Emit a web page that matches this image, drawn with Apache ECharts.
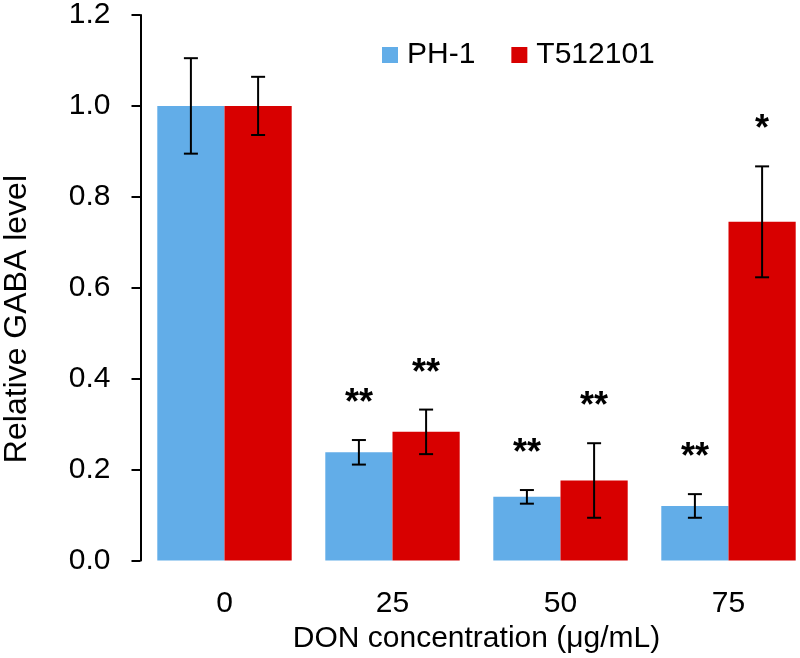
<!DOCTYPE html>
<html>
<head>
<meta charset="utf-8">
<script src="https://cdn.jsdelivr.net/npm/echarts@6/dist/echarts.min.js"></script>
<style>html,body{margin:0;padding:0;background:#fff;}#chart{width:800px;height:658px;}</style>
</head>
<body>
<div id="chart"></div>
<script>
const categories = ['0', '25', '50', '75'];
const ph1 = [1.0, 0.238, 0.140, 0.120];
const ph1Err = [0.105, 0.027, 0.015, 0.026];
const ph1Sig = ['', '**', '**', '**'];
const t512 = [1.0, 0.283, 0.176, 0.745];
const t512Err = [0.064, 0.049, 0.082, 0.122];
const t512Sig = ['', '**', '**', '*'];
const yTicks = [0, 0.2, 0.4, 0.6, 0.8, 1.0, 1.2];

const FONT = 'Liberation Sans, Arial, Helvetica, sans-serif';
const BLUE = '#62ADE8';
const RED = '#D80000';

function errSeries(name, vals, errs, sigs, offset) {
  return {
    type: 'custom',
    name: name,
    z: 10,
    silent: true,
    data: vals.map((v, i) => [i, v, errs[i]]),
    renderItem: function (params, api) {
      const ci = api.value(0), v = api.value(1), e = api.value(2);
      const band = api.size([1, 0])[0];
      const cx = api.coord([ci, 0])[0] + offset * band;
      const yT = api.coord([ci, v + e])[1];
      const yB = api.coord([ci, v - e])[1];
      const cap = 7;
      const st = { stroke: '#000', lineWidth: 2 };
      const children = [
        { type: 'line', shape: { x1: cx, y1: yT, x2: cx, y2: yB }, style: st },
        { type: 'line', shape: { x1: cx - cap, y1: yT, x2: cx + cap, y2: yT }, style: st },
        { type: 'line', shape: { x1: cx - cap, y1: yB, x2: cx + cap, y2: yB }, style: st }
      ];
      const s = sigs[params.dataIndex];
      if (s) {
        children.push({
          type: 'text',
          style: {
            text: s, x: cx, y: yT - 18,
            align: 'center', verticalAlign: 'bottom',
            fontSize: 36, fontWeight: 'bold', fontFamily: FONT, fill: '#000'
          }
        });
      }
      return { type: 'group', children: children };
    }
  };
}

const chart = echarts.init(document.getElementById('chart'), null, { renderer: 'canvas' });
chart.setOption({
  animation: false,
  backgroundColor: '#fff',
  textStyle: { fontFamily: FONT },
  grid: { left: 140.5, top: 15, width: 672, height: 545.5, containLabel: false, outerBoundsMode: 'none' },
  legend: {
    data: ['PH-1', 'T512101'],
    left: 377, top: 35,
    icon: 'rect', itemWidth: 16, itemHeight: 16, itemGap: 36,
    textStyle: { fontSize: 30, color: '#000', fontFamily: FONT, padding: [0, 0, 0, 4] }
  },
  xAxis: {
    type: 'category',
    data: categories,
    name: 'DON concentration (μg/mL)',
    nameLocation: 'middle',
    nameGap: 58,
    nameTextStyle: { fontSize: 30, color: '#000', fontFamily: FONT },
    axisLine: { show: false },
    axisTick: { show: false },
    axisLabel: { fontSize: 30, color: '#000', margin: 28, fontFamily: FONT },
    splitLine: { show: false }
  },
  yAxis: {
    type: 'value',
    min: yTicks[0], max: yTicks[yTicks.length - 1], interval: 0.2,
    axisLine: { show: true, lineStyle: { color: '#000', width: 2 } },
    axisTick: { show: true, inside: false, length: 9, lineStyle: { color: '#000', width: 2 } },
    axisLabel: { fontSize: 30, color: '#000', margin: 30, fontFamily: FONT, formatter: v => v.toFixed(1) },
    splitLine: { show: false }
  },
  graphic: [{
    type: 'text',
    left: 1, top: 320 - 145,
    rotation: Math.PI / 2,
    originX: 0, originY: 0,
    style: { text: 'Relative GABA level', fontSize: 32, fontFamily: FONT, fill: '#000' }
  }],
  series: [
    { type: 'bar', name: 'PH-1', data: ph1, barGap: '0%', barCategoryGap: '20%', itemStyle: { color: BLUE } },
    { type: 'bar', name: 'T512101', data: t512, barGap: '0%', barCategoryGap: '20%', itemStyle: { color: RED } },
    errSeries('errPH1', ph1, ph1Err, ph1Sig, -0.2),
    errSeries('errT', t512, t512Err, t512Sig, 0.2)
  ]
});
</script>
</body>
</html>
